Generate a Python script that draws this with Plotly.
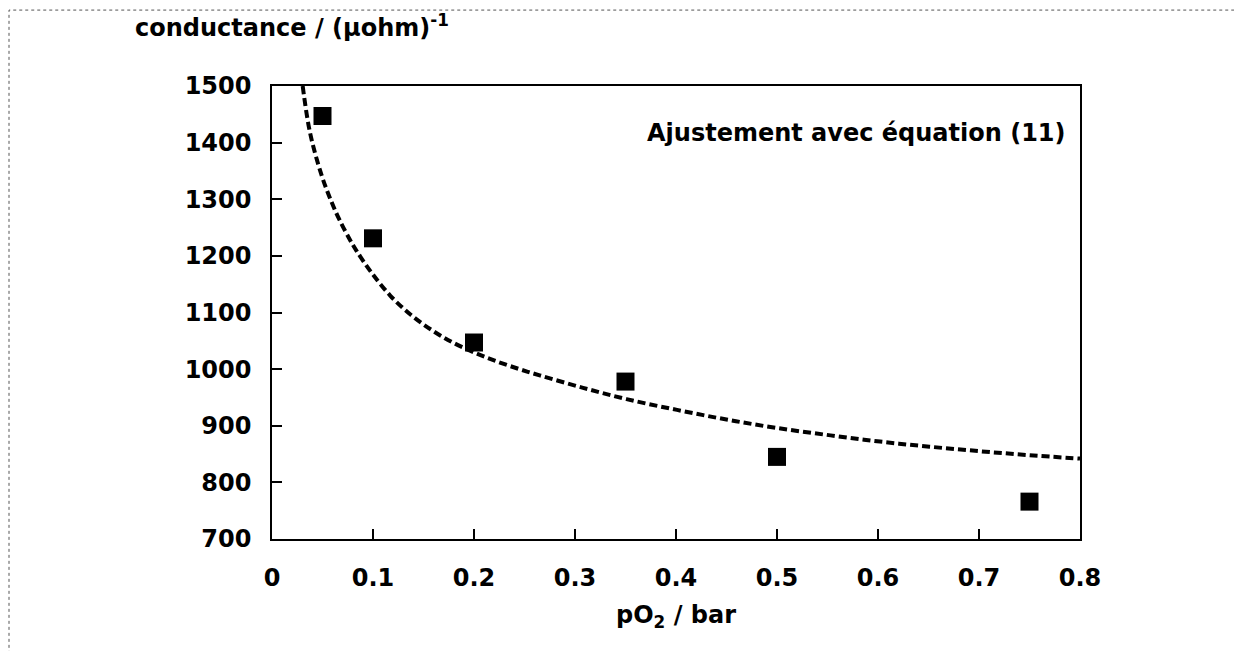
import plotly.graph_objects as go

# measured points
po2 = [0.05, 0.10, 0.20, 0.35, 0.50, 0.75]
conductance = [1447, 1231, 1047, 978, 845, 766]

# fitted curve (equation 11)
fit_x = [0.0304, 0.0376, 0.049, 0.059, 0.067, 0.077, 0.084, 0.0987, 0.117, 0.138,
         0.159, 0.179, 0.202, 0.222, 0.245, 0.265, 0.308, 0.351, 0.401, 0.450,
         0.500, 0.553, 0.602, 0.651, 0.701, 0.750, 0.800]
fit_y = [1500, 1418, 1343, 1295, 1263, 1229, 1208, 1170, 1130, 1095,
         1068, 1047, 1028, 1014, 1000, 989, 967, 947, 928, 911,
         896, 883, 872, 863, 855, 848, 842]

x_ticks = [0, 0.1, 0.2, 0.3, 0.4, 0.5, 0.6, 0.7, 0.8]
x_tick_labels = ["0", "0.1", "0.2", "0.3", "0.4", "0.5", "0.6", "0.7", "0.8"]
y_ticks = [700, 800, 900, 1000, 1100, 1200, 1300, 1400, 1500]

FONT = "DejaVu Sans"
OFF = 8  # page body margin

fig = go.Figure()
fig.add_trace(go.Scatter(
    x=fit_x, y=fit_y, mode="lines", line_shape="spline",
    line=dict(color="black", width=4, dash="8px,4px"),
    showlegend=False, hoverinfo="skip"))
fig.add_trace(go.Scatter(
    x=po2, y=conductance, mode="markers",
    marker=dict(symbol="square", size=18, color="black"),
    showlegend=False))

W, H = 1242, 651
L = 272 - OFF
T = 86 - OFF
R = W - (1080 - OFF)
B = H - (539.5 - OFF)
pw, ph = W - L - R, H - T - B

def px(xpix):
    return (xpix - OFF - L) / pw

def py(ypix):
    return (H - B - (ypix - OFF)) / ph

fig.update_layout(
    width=W, height=H,
    margin=dict(l=L, r=R, t=T, b=B, pad=0),
    paper_bgcolor="white", plot_bgcolor="white",
    font=dict(family=FONT, color="black"),
    xaxis=dict(range=[0, 0.8], tickvals=x_ticks, ticktext=x_tick_labels,
               showgrid=False, zeroline=False, showline=True, linecolor="black",
               linewidth=1.5, mirror=True, ticks="inside", ticklen=10, tickwidth=1.5,
               tickcolor="black", ticklabelstandoff=16,
               tickfont=dict(family=FONT, size=24, weight="bold")),
    yaxis=dict(range=[700, 1500], tickvals=y_ticks,
               showgrid=False, zeroline=False, showline=True, linecolor="black",
               linewidth=1.5, mirror=True, ticks="inside", ticklen=10, tickwidth=1.5,
               tickcolor="black", ticklabelstandoff=14,
               tickfont=dict(family=FONT, size=24, weight="bold")),
    shapes=[dict(type="rect", xref="paper", yref="paper",
                 x0=px(OFF + 1), y0=py(700), x1=px(1300), y1=py(10),
                 line=dict(color="#555555", width=1, dash="dot"))],
    annotations=[
        dict(text="conductance / (µohm)<sup>-1</sup>", xref="paper", yref="paper",
             x=px(133), y=py(26), xanchor="left", yanchor="middle", showarrow=False,
             font=dict(family=FONT, size=24, weight="bold")),
        dict(text="pO<sub>2</sub> / bar", xref="paper", yref="paper",
             x=px(676), y=py(617), xanchor="center", yanchor="middle", showarrow=False,
             font=dict(family=FONT, size=24, weight="bold")),
        dict(text="Ajustement avec équation (11)", xref="paper", yref="paper",
             x=px(1068), y=py(133), xanchor="right", yanchor="middle", showarrow=False,
             font=dict(family=FONT, size=24, weight="bold")),
    ],
)

fig.write_html("out.html")
